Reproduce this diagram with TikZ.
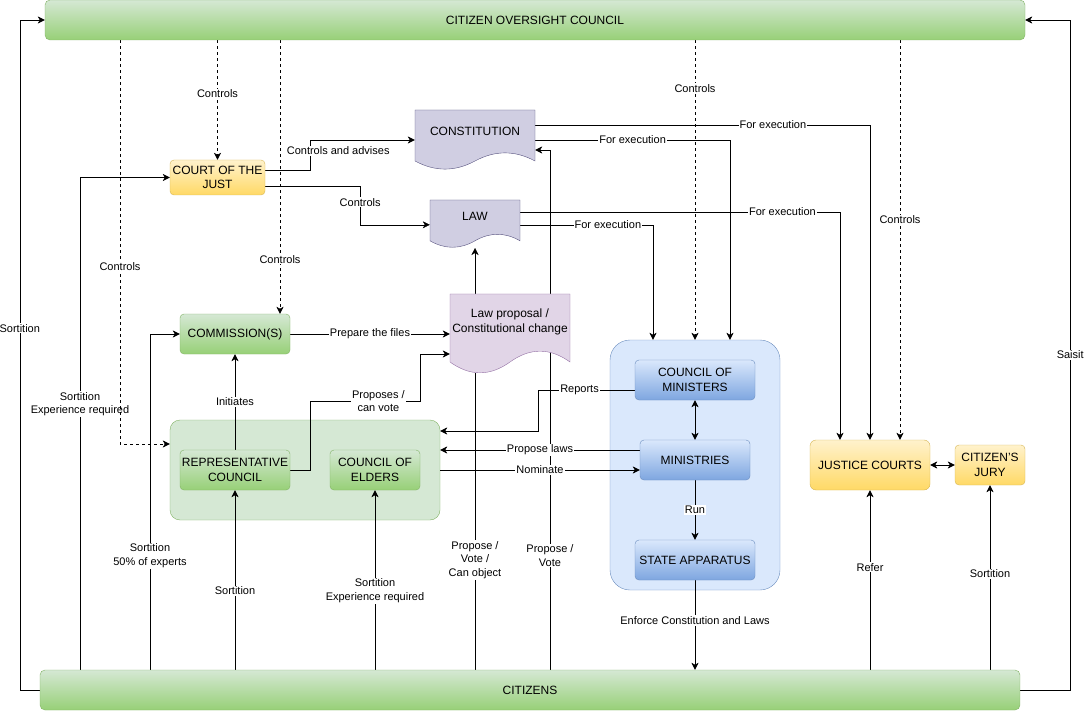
\documentclass[tikz,border=0pt]{standalone}
\usepackage{fontspec}
\setmainfont{Liberation Sans}
\usetikzlibrary{arrows.meta}
\definecolor{gfill}{HTML}{D5E8D4}\definecolor{gdark}{HTML}{97D077}\definecolor{gline}{HTML}{82B366}
\definecolor{yfill}{HTML}{FFF2CC}\definecolor{ydark}{HTML}{FFD966}\definecolor{yline}{HTML}{D6B656}
\definecolor{bfill}{HTML}{DAE8FC}\definecolor{bdark}{HTML}{7EA6E0}\definecolor{bline}{HTML}{6C8EBF}
\definecolor{dfill}{HTML}{D0CEE2}\definecolor{dline}{HTML}{56517E}
\definecolor{pfill}{HTML}{E1D5E7}\definecolor{pline}{HTML}{9673A6}
\pgfdeclarelayer{bg}\pgfdeclarelayer{edges}\pgfsetlayers{bg,edges,main}
\tikzset{
  box/.style={rounded corners=4, inner sep=1, align=center, font=\fontsize{12}{14.5}\selectfont},
  gbox/.style={box, draw=gline, top color=gfill, bottom color=gdark},
  ybox/.style={box, draw=yline, top color=yfill, bottom color=ydark},
  bbox/.style={box, draw=bline, top color=bfill, bottom color=bdark},
  doctext/.style={inner sep=0, align=center, font=\fontsize{12}{14.5}\selectfont},
  lbl/.style={fill=white, inner sep=1, align=center, font=\fontsize{11}{13.5}\selectfont},
  arr/.style={-{Stealth[length=7pt,width=7pt,inset=2pt]}},
  darr/.style={{Stealth[length=7pt,width=7pt,inset=2pt]}-{Stealth[length=7pt,width=7pt,inset=2pt]}},
  dsh/.style={dash pattern=on 3pt off 3pt},
}
\newcommand\docshape[5]{%
  \pgfmathsetmacro\dsa{#2+0.85*#4}%
  \pgfmathsetmacro\dsb{#2+0.67*#4}%
  \pgfmathsetmacro\dsc{#2+1.03*#4}%
  \filldraw[#5] (#1,#2) -- (#1+#3,#2) -- (#1+#3,\dsa)
    .. controls (#1+5*#3/6,\dsb) and (#1+2*#3/3,\dsb) .. (#1+#3/2,\dsa)
    .. controls (#1+#3/3,\dsc) and (#1+#3/6,\dsc) .. (#1,\dsa) -- cycle;}
\begin{document}
\begin{tikzpicture}[x=1pt,y=-1pt,line width=1pt]
\useasboundingbox (0,0) rectangle (1084,711);
\begin{pgfonlayer}{bg}
\node[draw=gline, fill=gfill, rounded corners=10, minimum width=270, minimum height=100] (legis) at (305,470) {};
\node[draw=bline, fill=bfill, rounded corners=20, minimum width=170, minimum height=250] (exec) at (695,465) {};
\end{pgfonlayer}
\node[gbox, rounded corners=5, minimum width=980, minimum height=40] (ovs) at (535,20) {CITIZEN OVERSIGHT COUNCIL};
\node[gbox, rounded corners=5, minimum width=980, minimum height=40] (cit) at (530,690) {CITIZENS};
\node[ybox, minimum width=95, minimum height=35] (court) at (217.5,177.5) {COURT OF THE\\JUST};
\docshape{415}{110}{120}{60}{fill=dfill, draw=dline}
\node[doctext, minimum width=120, minimum height=42] (const) at (475,131) {CONSTITUTION};
\docshape{430}{200}{90}{48}{fill=dfill, draw=dline}
\node[doctext, minimum width=90, minimum height=33.6] (law) at (475,216.8) {LAW};
\docshape{450}{294}{120}{80}{fill=pfill, draw=pline}
\node[doctext, minimum width=120, minimum height=56] (prop) at (510,322) {Law proposal /\\Constitutional change};
\coordinate (lawbot) at (475,248);
\coordinate (propbot) at (475,373);
\node[gbox, minimum width=110, minimum height=40] (comm) at (235,334) {COMMISSION(S)};
\node[gbox, minimum width=110, minimum height=40] (rep) at (235,470) {REPRESENTATIVE\\COUNCIL};
\node[gbox, minimum width=90, minimum height=40] (eld) at (375,470) {COUNCIL OF\\ELDERS};
\node[bbox, minimum width=120, minimum height=40] (mins) at (695,380) {COUNCIL OF\\MINISTERS};
\node[bbox, minimum width=110, minimum height=40] (mnst) at (695,460) {MINISTRIES};
\node[bbox, minimum width=120, minimum height=40] (state) at (695,560) {STATE APPARATUS};
\node[ybox, rounded corners=6, minimum width=120, minimum height=50] (just) at (870,465) {JUSTICE COURTS};
\node[ybox, minimum width=70, minimum height=40] (jury) at (990,465) {CITIZEN'S\\JURY};
\begin{pgfonlayer}{edges}
\draw[arr] (cit.north -| 80,0) |- node[lbl,pos=0.27]{Sortition\\Experience required} (court.west);
\draw[dsh,arr] (ovs.south -| 120,0) |- node[lbl,pos=0.28]{Controls} ([yshift=26]legis.west);
\draw[dsh,arr] (ovs.south -| court.north) -- node[lbl,pos=0.45]{Controls} (court.north);
\draw[dsh,arr] (ovs.south -| 280,0) -- node[lbl,pos=0.8]{Controls} (comm.north -| 280,0);
\draw[dsh,arr] (ovs.south -| exec.north) -- node[lbl,pos=0.16]{Controls} (exec.north);
\draw[dsh,arr] (ovs.south -| 900,0) -- node[lbl,pos=0.45]{Controls} (just.north -| 900,0);
\draw[arr] ([yshift=7.5]court.east) -- ++(45,0) |- node[lbl,pos=0.25,xshift=28,yshift=4]{Controls and advises} ([yshift=-9]const.west);
\draw[arr] ([yshift=-8.5]court.east) -- ++(95,0) |- node[lbl,pos=0.25,yshift=3]{Controls} ([yshift=-8]law.west);
\draw[arr] ([yshift=6]const.east) -| node[lbl,pos=0.355]{For execution} (just.north);
\draw[arr] ([yshift=-9]const.east) -| node[lbl,pos=0.25]{For execution} ([xshift=35]exec.north);
\draw[arr] ([yshift=-8]law.east) -| node[lbl,pos=0.33]{For execution} ([xshift=-42]exec.north);
\draw[arr] ([yshift=4.8]law.east) -| node[lbl,pos=0.41]{For execution} ([xshift=-30]just.north);
\draw[arr] ([xshift=-35]prop.north) -- (lawbot);
\draw[arr] (cit.north -| 550,0) |- node[lbl,pos=0.11]{Propose /\\Vote} ([yshift=-19]const.east);
\draw (cit.north -| propbot) -- node[lbl,pos=0.37]{Propose /\\Vote /\\Can object} (propbot);
\draw[arr] (comm.east) -- node[lbl]{Prepare the files} ([yshift=-12]prop.west);
\draw[arr] (rep.east) -- ++(20,0) -- ++(0,-69) -- node[lbl,pos=0.62]{Proposes /\\can vote} ++(110,0) |- ([yshift=-32]prop.west);
\draw[arr] (rep.north) -- node[lbl]{Initiates} (comm.south);
\draw[arr] ([yshift=-10]mins.west) -- node[lbl,pos=0.57]{Reports} ++(-97,0) |- ([yshift=39]legis.east);
\draw[arr] ([yshift=10]mnst.west) -- node[lbl]{Propose laws} ([yshift=20]legis.east);
\draw[arr] (legis.east) -- node[lbl]{Nominate} ([yshift=-10]mnst.west);
\draw[darr] (mins.south) -- (mnst.north);
\draw[arr] (mnst.south) -- node[lbl]{Run} (state.north);
\draw[arr] (state.south) -- node[lbl,pos=0.45]{Enforce Constitution and Laws} (cit.north -| state.south);
\draw[darr] (just.east) -- (jury.west);
\draw[arr] (cit.north -| just.south) -- node[lbl,pos=0.57]{Refer} (just.south);
\draw[arr] (cit.north -| jury.south) -- node[lbl,pos=0.52]{Sortition} (jury.south);
\draw[arr] (cit.west) -- ++(-20,0) |- node[lbl,pos=0.27]{Sortition} (ovs.west);
\draw[arr] (cit.east) -- ++(50,0) |- node[lbl,pos=0.25]{Saisit} (ovs.east);
\draw[arr] (cit.north -| 150,0) |- node[lbl,pos=0.17]{Sortition\\50\% of experts} (comm.west);
\draw[arr] (cit.north -| rep.south) -- node[lbl,pos=0.44]{Sortition} (rep.south);
\draw[arr] (cit.north -| eld.south) -- node[lbl,pos=0.44]{Sortition\\Experience required} (eld.south);
\end{pgfonlayer}
\end{tikzpicture}
\end{document}
